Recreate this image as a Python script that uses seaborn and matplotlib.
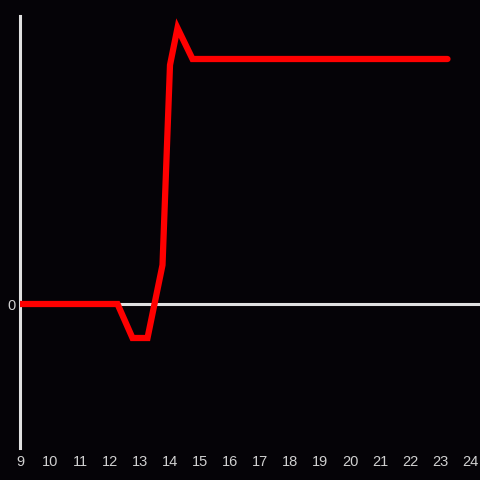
import matplotlib
matplotlib.use("Agg")
import matplotlib.pyplot as plt
import seaborn as sns
import pandas as pd

hours = [9.0, 12.25, 12.75, 13.25, 13.75, 14.0, 14.25, 14.75, 23.25]
values = [0.0, 0.0, -0.34, -0.34, 0.39, 2.39, 2.76, 2.45, 2.45]
xticks = list(range(9, 25))

df = pd.DataFrame({"hour": hours, "value": values})

sns.set_theme(style="dark")
bg = "#050307"
fig = plt.figure(figsize=(4.8, 4.8), dpi=100, facecolor=bg)
ax = fig.add_axes([20/480, 32/480, 460/480, 432/480], facecolor=bg)

ax.axhline(0, color="#e0e0e0", lw=2.2, zorder=1)
sns.lineplot(data=df, x="hour", y="value", ax=ax, color="#ff0000", lw=4.5,
             zorder=3, solid_joinstyle="miter")

ax.set_xlim(9, 24.333)
ax.set_ylim(-1.44, 2.88)
ax.set_xticks(xticks)
ax.set_xticklabels([str(t) for t in xticks])
ax.set_yticks([0])
ax.set_yticklabels(["0"])
ax.set_xlabel("")
ax.set_ylabel("")
ax.grid(False)
for s in ["top", "right", "bottom"]:
    ax.spines[s].set_visible(False)
ax.spines["left"].set_color("#e0e0e0")
ax.spines["left"].set_linewidth(2.2)
ax.tick_params(axis="both", length=0, colors="#d0d0d0", labelsize=10.5)
ax.tick_params(axis="x", pad=5)
ax.tick_params(axis="y", pad=3)
for lab in ax.get_xticklabels() + ax.get_yticklabels():
    lab.set_fontfamily("Liberation Sans")

fig.savefig("out.png", dpi=100, facecolor=bg)
